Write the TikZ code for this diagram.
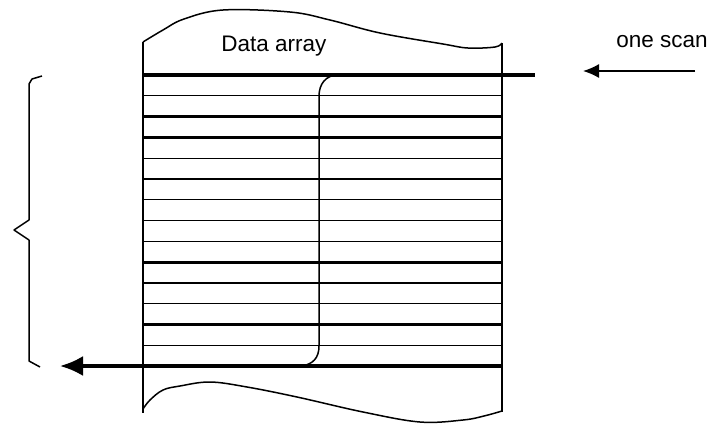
\documentclass[tikz,border=0pt]{standalone}
\usepackage{fontspec}
\setmainfont{Liberation Sans}
\usetikzlibrary{arrows.meta}

\begin{document}
\begin{tikzpicture}[
    x=1pt,y=-1pt,
    thinrow/.style={line width=1.3pt},
    thickrow/.style={line width=3.2pt},
    edge/.style={line width=1.5pt,line join=round},
    txt/.style={font=\fontsize{22.5}{25}\selectfont,inner sep=0pt,anchor=base}
  ]
  \useasboundingbox (0,0) rectangle (716,424);
  % data array sheet, torn at top and bottom
  \draw[edge] plot[smooth,tension=0.6] coordinates {(143,42) (163,30) (184,19) (223,10) (290,12) (330,20) (380,33) (443,44) (468,48) (495,47) (502,43)};
  \draw[edge] plot[smooth,tension=0.6] coordinates {(143,409) (150,400) (163,390) (180,386) (210,382) (247,387) (297,397) (363,412) (420,422) (463,420) (484,416) (502,411)};
  \draw[edge] (143,42) -- (143,413);
  \draw[edge] (502,43) -- (502,412);
  \node[txt] (title) at (274,51) {Data array};
  % rows
  \foreach \k in {1,...,13}
    \draw[thinrow] (143,75+20.79*\k) -- (502,75+20.79*\k);
  \foreach \k in {2,3,9,12}
    \draw[thickrow] (143,75+20.79*\k) -- (502,75+20.79*\k);
  \coordinate (rowin) at (535,75);
  \coordinate (rowstart) at (143,75);
  \coordinate (rowend) at (502,366);
  \coordinate (rowout) at (60,366);
  \draw[thickrow] (rowstart) -- (rowin);
  \draw[thickrow,-{Latex[length=23pt,width=20pt]}] (rowend) -- (rowout);
  % scan path through the array
  \draw[edge] (302,366) .. controls (313,364) and (319,358) .. (319,346) -- (319,96) .. controls (319,84) and (326,75) .. (338,75);
  % one scan
  \coordinate (scanfrom) at (695,71);
  \coordinate (scanto) at (583,71);
  \draw[edge,-{Latex[length=16pt,width=14pt]}] (scanfrom) -- (scanto);
  \node[txt] (scan) at (662,47) {one scan};
  % brace
  \draw[edge] (42,76) -- (32,79) -- (29,84) -- (29,220) -- (14,230) -- (29,240) -- (29,361) -- (40,367);
\end{tikzpicture}
\end{document}
